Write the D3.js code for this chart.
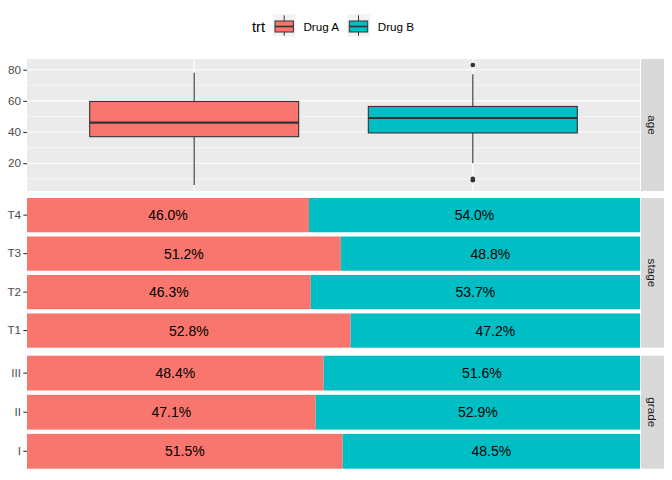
<!DOCTYPE html>
<html>
<head>
<meta charset="utf-8">
<script src="https://cdn.jsdelivr.net/npm/d3@7"></script>
<style>
  body { margin: 0; background: #fff; }
  text { font-family: "Liberation Sans", Arial, sans-serif; }
</style>
</head>
<body>
<div id="vis"></div>
<script>
// Data
const trt = ['Drug A', 'Drug B'];
const trtColors = ['#F8766D', '#00BFC4'];

// age boxplot stats, one per trt
const ageLower = [6, 20];
const ageQ1 = [37, 39.4];
const ageMedian = [46, 49];
const ageQ3 = [59.6, 56.4];
const ageUpper = [78, 77];
const ageOutliers = [[], [9, 10, 83]];
const ageTicks = [20, 40, 60, 80];
const ageMinor = [10, 30, 50, 70];

// percentage bars
const stageLevels = ['T4', 'T3', 'T2', 'T1'];
const stageDrugA = [46.0, 51.2, 46.3, 52.8];
const stageDrugB = [54.0, 48.8, 53.7, 47.2];

const gradeLevels = ['III', 'II', 'I'];
const gradeDrugA = [48.4, 47.1, 51.5];
const gradeDrugB = [51.6, 52.9, 48.5];

// canvas
const width = 672;
const height = 480;
const left = 27, right = 640;
const stripW = 23;

const svg = d3.select('#vis').append('svg')
    .attr('width', width)
    .attr('height', height);

// ---- legend ----
const leg = svg.append('g');
leg.append('text').attr('x', 252).attr('y', 31.5).attr('font-size', 14.7).attr('fill', '#000').text('trt');
const keyX = [273, 347.3];
trt.forEach((t, i) => {
    const kx = keyX[i], ky = 14.3, ks = 22.4;
    leg.append('rect').attr('x', kx).attr('y', ky).attr('width', ks).attr('height', ks).attr('fill', '#F2F2F2');
    const cx = kx + ks / 2;
    leg.append('line').attr('x1', cx).attr('x2', cx).attr('y1', ky + 1).attr('y2', ky + ks - 1)
        .attr('stroke', '#333').attr('stroke-width', 1);
    leg.append('rect').attr('x', kx + 2).attr('y', 21).attr('width', ks - 4).attr('height', 11)
        .attr('fill', trtColors[i]).attr('stroke', '#333').attr('stroke-width', 1);
    leg.append('line').attr('x1', kx + 2).attr('x2', kx + ks - 2).attr('y1', 26.5).attr('y2', 26.5)
        .attr('stroke', '#333').attr('stroke-width', 1.6);
    leg.append('text').attr('x', kx + ks + 8).attr('y', 31).attr('font-size', 11.7).attr('fill', '#000').text(t);
});

function strip(y0, y1, label) {
    svg.append('rect').attr('x', right + 1).attr('y', y0).attr('width', stripW).attr('height', y1 - y0)
        .attr('fill', '#D9D9D9');
    const cx = right + 1 + stripW / 2, cy = (y0 + y1) / 2;
    svg.append('text').attr('transform', `translate(${cx},${cy}) rotate(90)`)
        .attr('text-anchor', 'middle').attr('dy', '0.35em')
        .attr('font-size', 11.7).attr('fill', '#1A1A1A').text(label);
}

// ---- age panel ----
const ageTop = 59, ageBottom = 191;
const allAge = ageLower.concat(ageUpper, ageOutliers.flat());
const aMin = d3.min(allAge), aMax = d3.max(allAge);
const pad = (aMax - aMin) * 0.05;
const yAge = d3.scaleLinear().domain([aMin - pad, aMax + pad]).range([ageBottom, ageTop]);
const xTrt = d3.scalePoint().domain(trt).range([left, right]).padding(0.6);
const boxHalf = (xTrt.step()) * 0.375;

const ga = svg.append('g');
ga.append('rect').attr('x', left).attr('y', ageTop).attr('width', right - left).attr('height', ageBottom - ageTop)
    .attr('fill', '#EBEBEB');
ga.selectAll('.minor').data(ageMinor).join('line')
    .attr('x1', left).attr('x2', right).attr('y1', d => yAge(d)).attr('y2', d => yAge(d))
    .attr('stroke', '#fff').attr('stroke-width', 0.55);
ga.selectAll('.major').data(ageTicks).join('line')
    .attr('x1', left).attr('x2', right).attr('y1', d => yAge(d)).attr('y2', d => yAge(d))
    .attr('stroke', '#fff').attr('stroke-width', 1.1);
ga.selectAll('.vmajor').data(trt).join('line')
    .attr('x1', d => xTrt(d)).attr('x2', d => xTrt(d)).attr('y1', ageTop).attr('y2', ageBottom)
    .attr('stroke', '#fff').attr('stroke-width', 1.1);

const yAxis = d3.axisLeft(yAge).tickValues(ageTicks).tickSize(3.7).tickPadding(2.2);
svg.append('g').attr('transform', `translate(${left},0)`).call(yAxis)
    .call(g => g.select('.domain').remove())
    .call(g => g.selectAll('line').attr('stroke', '#333').attr('stroke-width', 1.1))
    .call(g => g.selectAll('text').attr('font-size', 11.7).attr('fill', '#4D4D4D')
        .attr('font-family', '"Liberation Sans", Arial, sans-serif'));

trt.forEach((t, i) => {
    const cx = xTrt(t);
    ga.append('line').attr('x1', cx).attr('x2', cx).attr('y1', yAge(ageQ3[i])).attr('y2', yAge(ageUpper[i]))
        .attr('stroke', '#333').attr('stroke-width', 1.1);
    ga.append('line').attr('x1', cx).attr('x2', cx).attr('y1', yAge(ageQ1[i])).attr('y2', yAge(ageLower[i]))
        .attr('stroke', '#333').attr('stroke-width', 1.1);
    ga.append('rect').attr('x', cx - boxHalf).attr('width', boxHalf * 2)
        .attr('y', yAge(ageQ3[i])).attr('height', yAge(ageQ1[i]) - yAge(ageQ3[i]))
        .attr('fill', trtColors[i]).attr('stroke', '#333').attr('stroke-width', 1.1);
    ga.append('line').attr('x1', cx - boxHalf).attr('x2', cx + boxHalf)
        .attr('y1', yAge(ageMedian[i])).attr('y2', yAge(ageMedian[i]))
        .attr('stroke', '#333').attr('stroke-width', 2.2);
    ga.selectAll(null).data(ageOutliers[i]).join('circle')
        .attr('cx', cx).attr('cy', d => yAge(d)).attr('r', 2.3).attr('fill', '#333');
});
strip(ageTop, ageBottom, 'age');

// ---- percentage bar panels ----
const xPct = d3.scaleLinear().domain([0, 100]).range([left, right]);

function barPanel(levels, a, b, y0, y1, label) {
    const y = d3.scaleBand().domain(levels).range([y0, y1]).paddingInner(0.11).paddingOuter(0);
    const g = svg.append('g');
    levels.forEach((lv, i) => {
        const segs = [[0, a[i]], [a[i], a[i] + b[i]]];
        segs.forEach((s, j) => {
            g.append('rect').attr('x', xPct(s[0])).attr('width', xPct(s[1]) - xPct(s[0]))
                .attr('y', y(lv)).attr('height', y.bandwidth()).attr('fill', trtColors[j]);
            g.append('text').attr('x', (xPct(s[0]) + xPct(s[1])) / 2).attr('y', y(lv) + y.bandwidth() / 2)
                .attr('dy', '0.36em').attr('text-anchor', 'middle').attr('font-size', 14)
                .attr('fill', '#000').text((s[1] - s[0]).toFixed(1) + '%');
        });
    });
    const ax = d3.axisLeft(y).tickSize(3.7).tickPadding(2.2);
    svg.append('g').attr('transform', `translate(${left},0)`).call(ax)
        .call(g => g.select('.domain').remove())
        .call(g => g.selectAll('line').attr('stroke', '#333').attr('stroke-width', 1.1))
        .call(g => g.selectAll('text').attr('font-size', 11.7).attr('fill', '#4D4D4D')
            .attr('font-family', '"Liberation Sans", Arial, sans-serif'));
    strip(y0, y1, label);
}

barPanel(stageLevels, stageDrugA, stageDrugB, 198, 347.7, 'stage');
barPanel(gradeLevels, gradeDrugA, gradeDrugB, 355.7, 468.7, 'grade');
</script>
</body>
</html>
